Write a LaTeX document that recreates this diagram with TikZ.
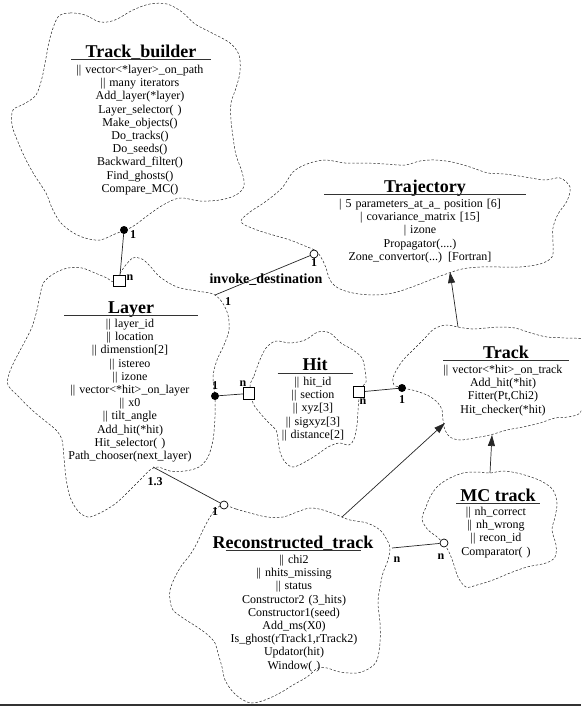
\documentclass[tikz,border=0pt]{standalone}
\usepackage{fontspec}
\setmainfont{Liberation Serif}
\usetikzlibrary{calc,arrows.meta}

\begin{document}
\begin{tikzpicture}[x=1pt,y=-1pt]
        \tikzstyle{class_name} = [inner sep=0, text depth=2.5pt, anchor=base, font=\fontsize{18}{20}\selectfont\bfseries]
        \tikzstyle{class_body} = [inner sep=0, text width=190pt, align=center, anchor=base, font=\fontsize{12}{13.2}\selectfont]
        \tikzstyle{cloud_edge} = [draw=black!85, line width=0.5pt, dash pattern=on 2.4pt off 1.8pt]
        \tikzstyle{title_rule} = [draw=black!80, line width=1.4pt]
        \tikzstyle{assoc} = [draw=black!85, line width=0.7pt]
        \tikzstyle{inherits} = [assoc, -{Triangle[length=11pt,width=7pt]}]
        \tikzstyle{ball_end} = [circle, fill=black, inner sep=0, minimum size=8pt]
        \tikzstyle{ring_end} = [circle, draw=black, fill=white, line width=0.7pt, inner sep=0, minimum size=8pt]
        \tikzstyle{square_end} = [rectangle, draw=black, fill=white, line width=0.7pt, inner sep=0, minimum size=11.5pt]
        \tikzstyle{card} = [inner sep=0, font=\fontsize{12}{12}\selectfont\bfseries]
        \useasboundingbox (0,0) rectangle (581,712);
        \clip (0,0) rectangle (581,712);

        \draw[cloud_edge] plot[smooth cycle, tension=0.55] coordinates {(58,17) (70,13) (85,15) (100,22) (115,20) (133,10) (150,4) (167,4) (182,12) (195,24) (212,33) (230,43) (239,55) (240,72) (236,88) (231,103) (231,120) (233,137) (236,155) (242,172) (244,186) (236,195) (220,200) (200,201) (180,198) (163,205) (147,216) (132,227) (115,234) (100,240) (85,238) (72,232) (60,222) (52,208) (46,193) (35,176) (26,160) (18,142) (12,125) (13,110) (24,104) (36,95) (42,78) (46,58) (50,38)};
        \draw[cloud_edge] plot[smooth cycle, tension=0.55] coordinates {(241,222) (250,212) (265,202) (282,188) (293,172) (307,164) (325,160) (345,163) (365,163) (385,164) (405,165) (420,161) (435,160) (452,162) (470,167) (488,173) (505,174) (525,177) (545,180) (560,178) (570,187) (567,201) (558,214) (553,228) (553,243) (552,257) (540,264) (520,267) (500,267) (480,267) (462,269) (446,274) (430,280) (412,287) (393,293) (373,295) (353,293) (338,288) (330,280) (326,268) (322,259) (316,251) (305,246) (290,240) (273,235) (257,230)};
        \draw[cloud_edge] plot[smooth cycle, tension=0.55] coordinates {(125,266) (133,258) (142,259) (150,266) (160,277) (177,287) (197,291) (213,294) (222,302) (228,315) (229,330) (224,345) (217,360) (213,377) (215,397) (215,417) (213,440) (208,457) (199,467) (185,471) (170,471) (158,467) (150,470) (140,480) (128,492) (115,504) (100,513) (88,517) (78,511) (70,497) (66,478) (64,458) (62,440) (56,430) (44,420) (32,410) (18,396) (8,385) (9,374) (15,360) (24,343) (32,327) (37,310) (40,295) (44,282) (55,273) (68,268) (82,268) (95,273) (107,278) (114,281)};
        \draw[cloud_edge] plot[smooth cycle, tension=0.55] coordinates {(250,386) (254,376) (259,362) (266,348) (276,341) (290,343) (305,340) (318,332) (330,333) (341,343) (353,350) (362,358) (365,370) (366,382) (362,387) (359,399) (358,411) (357,425) (354,439) (349,445) (339,443) (328,447) (318,454) (305,462) (293,467) (285,462) (280,452) (278,440) (276,430) (269,423) (260,413) (253,403)};
        \draw[cloud_edge] plot[smooth cycle, tension=0.55] coordinates {(393,378) (397,369) (404,359) (414,349) (424,339) (434,329) (446,325) (458,327) (472,329) (486,328) (500,327) (515,328) (531,333) (547,337) (565,338) (585,340) (595,355) (590,372) (582,385) (583,400) (580,413) (568,417) (555,418) (540,423) (523,427) (507,430) (490,435) (474,438) (460,440) (450,437) (445,430) (443,420) (442,410) (438,403) (429,396) (416,391) (403,388) (394,385)};
        \draw[cloud_edge] plot[smooth cycle, tension=0.55] coordinates {(490,473) (503,471) (517,473) (531,477) (543,482) (553,490) (557,503) (555,517) (552,530) (556,545) (555,557) (546,563) (527,567) (510,573) (493,580) (477,585) (466,587) (458,577) (453,562) (448,550) (443,543) (436,536) (428,530) (422,519) (426,507) (430,497) (437,487) (448,479) (463,473) (477,472)};
        \draw[cloud_edge] plot[smooth cycle, tension=0.55] coordinates {(224,505) (236,509) (250,513) (267,517) (283,517) (297,512) (310,508) (323,510) (337,515) (350,520) (367,523) (380,530) (387,540) (390,548) (388,560) (383,573) (380,587) (378,603) (380,623) (380,643) (377,660) (370,668) (357,673) (340,672) (327,668) (318,668) (307,677) (293,685) (280,693) (265,700) (252,703) (243,700) (233,692) (225,680) (222,667) (218,653) (215,643) (208,635) (197,627) (183,618) (173,610) (170,600) (170,590) (175,577) (182,565) (190,555) (197,543) (203,530) (210,517) (217,508)};

        \node (track_builder) [class_name] at (141,57) {Track\_builder};
        \node (track_builder_body) [class_body] at (140,73.5) {|| vector<*layer>\_on\_path\\|| many iterators\\Add\_layer(*layer)\\Layer\_selector( )\\Make\_objects()\\Do\_tracks()\\Do\_seeds()\\Backward\_filter()\\Find\_ghosts()\\Compare\_MC()};
        \node (trajectory) [class_name] at (425,192) {Trajectory};
        \node (trajectory_body) [class_body] at (420,207.5) {| 5 parameters\_at\_a\_ position [6]\\| covariance\_matrix [15]\\| izone\\Propagator(....)\\Zone\_convertor(...) [Fortran]};
        \node (layer) [class_name] at (131,313) {Layer};
        \node (layer_body) [class_body] at (130,327.5) {|| layer\_id\\|| location\\|| dimenstion[2]\\|| istereo\\|| izone\\|| vector<*hit>\_on\_layer\\|| x0\\|| tilt\_angle\\Add\_hit(*hit)\\Hit\_selector( )\\Path\_chooser(next\_layer)};
        \node (hit) [class_name] at (315,370.5) {Hit};
        \node (hit_body) [class_body] at (313,385.5) {|| hit\_id\\|| section\\|| xyz[3]\\|| sigxyz[3]\\|| distance[2]};
        \node (track) [class_name] at (506,358) {Track};
        \node (track_body) [class_body] at (503,373.5) {|| vector<*hit>\_on\_track\\Add\_hit(*hit)\\Fitter(Pt,Chi2)\\Hit\_checker(*hit)};
        \node (mc_track) [class_name] at (498,501) {MC track};
        \node (mc_track_body) [class_body] at (496,515.5) {|| nh\_correct\\|| nh\_wrong\\|| recon\_id\\Comparator( )};
        \node (reco_track) [class_name] at (293,548) {Reconstructed\_track};
        \node (reco_track_body) [class_body] at (294,563.5) {|| chi2\\|| nhits\_missing\\|| status\\Constructor2 (3\_hits)\\Constructor1(seed)\\Add\_ms(X0)\\Is\_ghost(rTrack1,rTrack2)\\Updator(hit)\\Window( )};

        \draw[title_rule] ($(track_builder.south)+(-70,0)$) -- ($(track_builder.south)+(70,0)$);
        \draw[title_rule] ($(trajectory.south)+(-101,0)$) -- ($(trajectory.south)+(101,0)$);
        \draw[title_rule] ($(layer.south)+(-67,0)$) -- ($(layer.south)+(67,0)$);
        \draw[title_rule] ($(hit.south)+(-37.5,0)$) -- ($(hit.south)+(37.5,0)$);
        \draw[title_rule] ($(track.south)+(-63,0)$) -- ($(track.south)+(63,0)$);
        \draw[title_rule] ($(mc_track.south)+(-42,0)$) -- ($(mc_track.south)+(42,0)$);
        \draw[title_rule] ($(reco_track.south)+(-67.5,0)$) -- ($(reco_track.south)+(67.5,0)$);

        \node (builder_ball) [ball_end] at (124,230) {};
        \node (layer_square) [square_end] at (119.5,281) {};
        \node (layer_ball) [ball_end] at (215,396) {};
        \node (hit_square_left) [square_end] at (249,393.5) {};
        \node (hit_square_right) [square_end] at (359,392) {};
        \node (track_ball) [ball_end] at (402,388) {};
        \node (trajectory_ring) [ring_end] at (314,254) {};
        \node (reco_ring) [ring_end] at (224,505) {};
        \node (mc_ring) [ring_end] at (444,543) {};
        \coordinate (layer_right) at (215,295);
        \coordinate (layer_bottom) at (153,467);
        \coordinate (reco_right) at (392,548);
        \coordinate (reco_top) at (342,517);
        \coordinate (track_top) at (458,327);
        \coordinate (track_bottom) at (492,435);
        \coordinate (track_left) at (445,423);
        \coordinate (trajectory_bottom) at (450,272);
        \coordinate (mc_top) at (490,473);

        \draw[assoc] (builder_ball) -- (layer_square);
        \draw[assoc] (layer_right) -- (trajectory_ring);
        \draw[assoc] (layer_ball) -- (hit_square_left);
        \draw[assoc] (hit_square_right) -- (track_ball);
        \draw[assoc] (layer_bottom) -- (reco_ring);
        \draw[assoc] (reco_right) -- (mc_ring);
        \draw[inherits] (track_top) -- (trajectory_bottom);
        \draw[inherits] (mc_top) -- (track_bottom);
        \draw[inherits] (reco_top) -- (track_left);

        \node (card_builder) [card] at (133,235) {1};
        \node (card_layer_n) [card] at (130,278) {n};
        \node (card_trajectory) [card] at (314,263) {1};
        \node (invoke_destination) [inner sep=0, anchor=base, font=\fontsize{14}{14}\selectfont\bfseries] at (266,283) {invoke\_destination};
        \node (card_layer_1) [card] at (228,302) {1};
        \node (card_layer_hit) [card] at (215,386) {1};
        \node (card_hit_left) [card] at (243,384) {n};
        \node (card_hit_right) [card] at (363,402) {n};
        \node (card_track) [card] at (402,400) {1};
        \node (card_layer_reco) [card] at (155,482) {1.3};
        \node (card_reco_1) [card] at (215,512) {1};
        \node (card_reco_n) [card] at (397,560) {n};
        \node (card_mc_n) [card] at (441,557) {n};

        \coordinate (rule_left) at (0,705);
        \coordinate (rule_right) at (581,705);
        \draw[line width=2pt, draw=black!80] (rule_left) -- (rule_right);
\end{tikzpicture}
\end{document}
